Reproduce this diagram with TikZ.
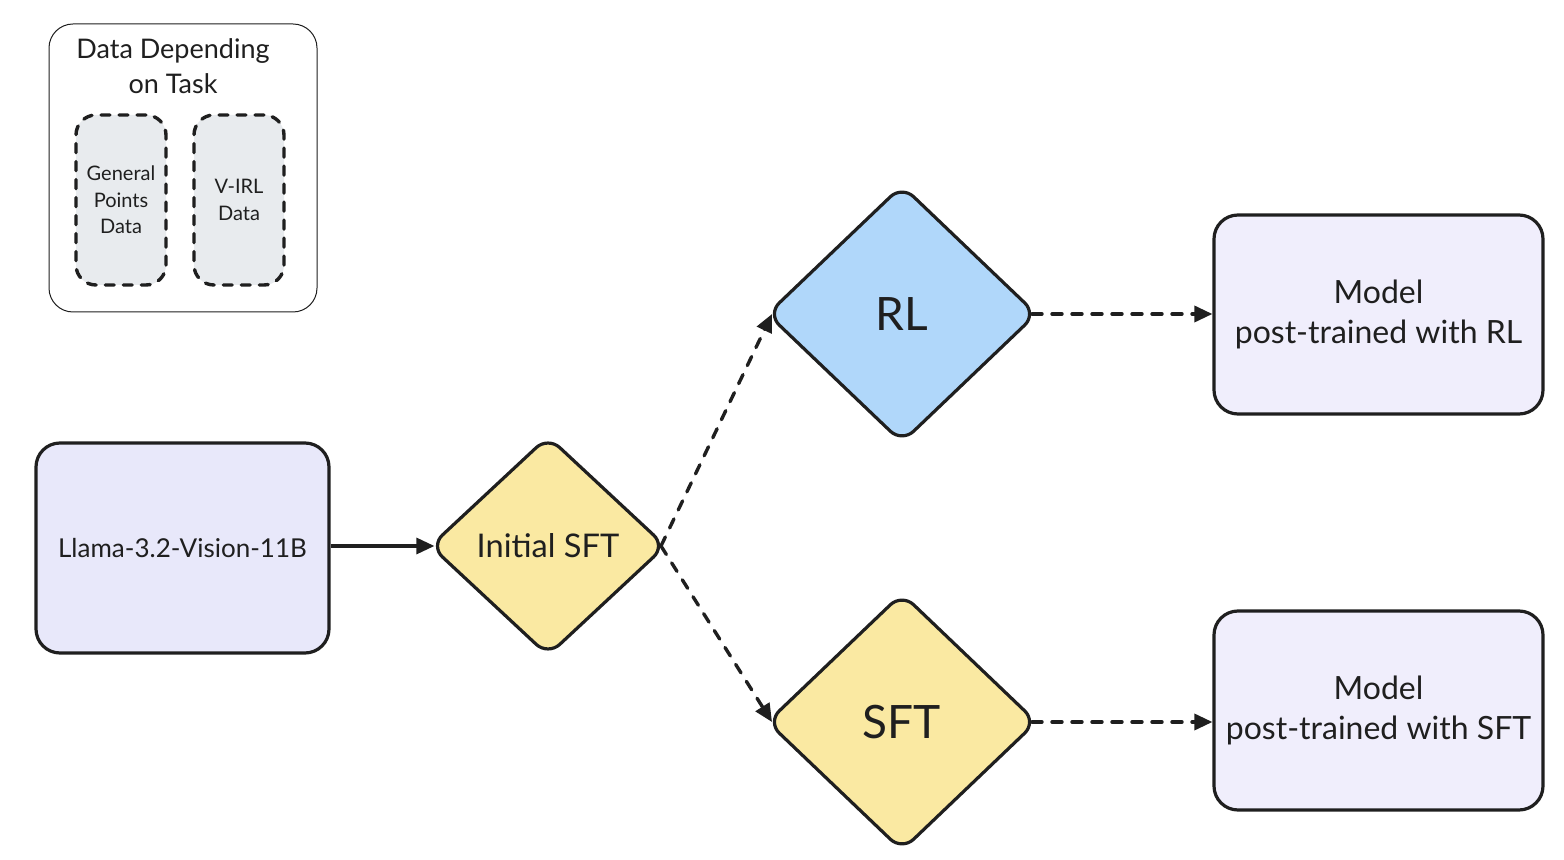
\documentclass[tikz,border=0pt]{standalone}
\usepackage{fontspec}
\setmainfont{Lato}
\usetikzlibrary{shapes.geometric,arrows.meta}
\definecolor{ink}{HTML}{1F1F1F}
\definecolor{lav}{HTML}{E8E8FA}
\definecolor{lavlight}{HTML}{F0EEFC}
\definecolor{yel}{HTML}{FAE9A2}
\definecolor{blu}{HTML}{B0D7FA}
\definecolor{grayfill}{HTML}{E8EBEE}
\tikzset{
  box/.style={draw=ink, line width=1.6pt, rounded corners=12pt, align=center, text=ink, inner sep=0pt},
  dia/.style={diamond, draw=ink, line width=1.6pt, rounded corners=8pt, inner sep=0pt, text=ink, align=center},
  databox/.style={draw=ink, line width=1.7pt, line cap=round, dash pattern=on 4.5pt off 4.5pt, rounded corners=10pt, fill=grayfill, minimum width=45pt, minimum height=85pt, align=center, text=ink, font=\fontsize{10}{13.2}\selectfont},
  solidarrow/.style={draw=ink, line width=1.6pt, -{Triangle[length=9pt,width=8pt]}},
  dasharrow/.style={draw=ink, line width=1.7pt, line cap=round, dash pattern=on 5pt off 5pt, -{Triangle[length=9pt,width=8pt]}},
}
\begin{document}
\begin{tikzpicture}[x=0.5pt,y=-0.5pt]
\useasboundingbox (0,0) rectangle (1564,860);
% group box
\node[draw=ink, line width=0.5pt, rounded corners=12pt, minimum width=134pt, minimum height=144pt, fill=white] (group) at (183,168) {};
\node[text=ink, align=center, font=\fontsize{13.5}{17.5}\selectfont] (grouptitle) at (173,66) {Data Depending\\on Task};
\node[databox] (gp) at (121,200) {General\\Points\\Data};
\node[databox] (virl) at (239,200) {V-IRL\\Data};
% main nodes
\node[box, fill=lav, minimum width=146.5pt, minimum height=105pt, font=\fontsize{13}{14}\selectfont] (llama) at (182.5,548) {Llama-3.2-Vision-11B};
\node[dia, fill=yel, minimum width=118pt, minimum height=110pt, font=\fontsize{16.3}{18}\selectfont] (init) at (548,546) {Initial SFT};
\node[dia, fill=blu, minimum width=135pt, minimum height=129pt, font=\fontsize{23}{26}\selectfont] (rl) at (902,314) {RL};
\node[dia, fill=yel, minimum width=135pt, minimum height=129pt, font=\fontsize{23}{26}\selectfont] (sft) at (902,722) {SFT};
\node[box, fill=lavlight, minimum width=164.5pt, minimum height=99.5pt, font=\fontsize{16}{20}\selectfont] (mrl) at (1378.5,314.5) {Model\\post-trained with RL};
\node[box, fill=lavlight, minimum width=164.5pt, minimum height=99.5pt, font=\fontsize{16}{20}\selectfont] (msft) at (1378.5,710.5) {Model\\post-trained with SFT};
% connectors
\draw[solidarrow] (llama.east |- init.west) -- ([xshift=3pt]init.west);
\draw[dasharrow] ([xshift=-3.3pt]init.east) -- ([xshift=3.3pt]rl.west);
\draw[dasharrow] ([xshift=-3.3pt]init.east) -- ([xshift=3.3pt]sft.west);
\draw[dasharrow] ([xshift=-3.3pt]rl.east) -- (mrl.west |- rl.east);
\draw[dasharrow] ([xshift=-3.3pt]sft.east) -- (msft.west |- sft.east);
\end{tikzpicture}
\end{document}
